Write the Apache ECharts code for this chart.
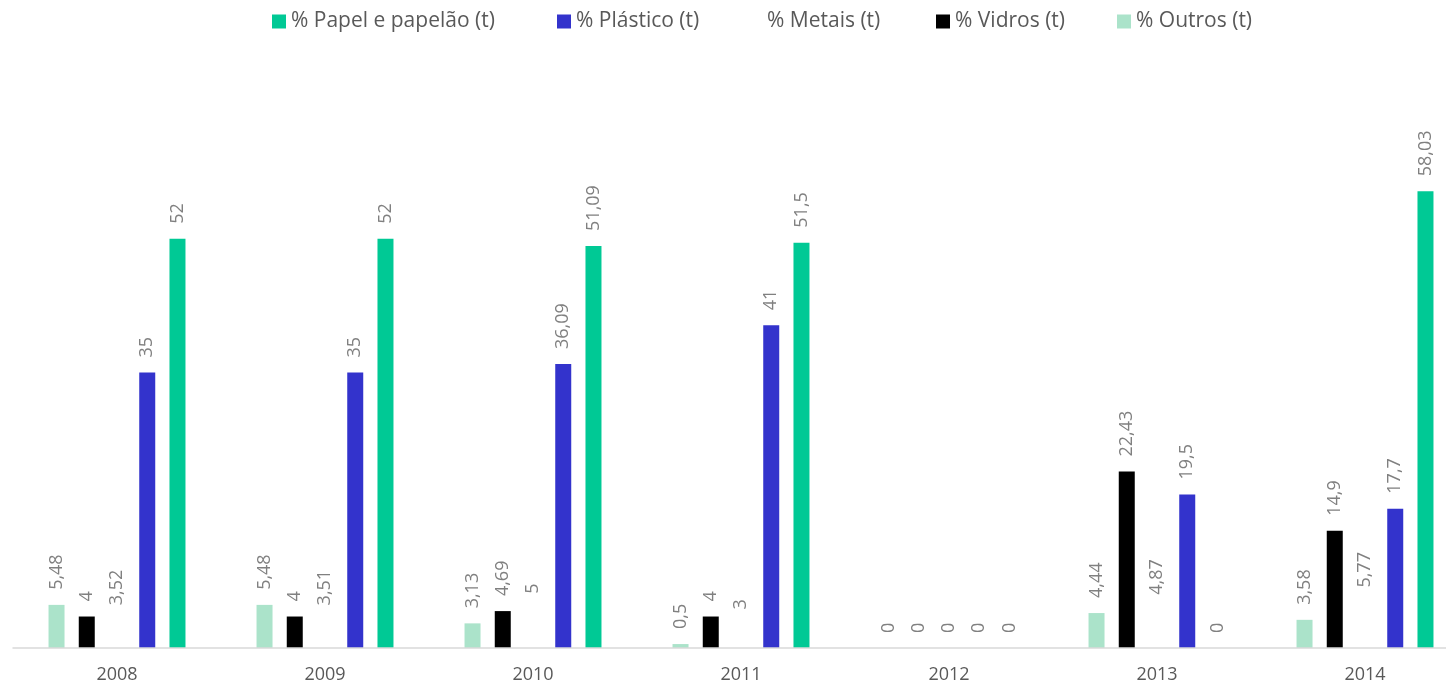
<!DOCTYPE html>
<html>
<head>
<meta charset="utf-8">
<script src="https://cdn.jsdelivr.net/npm/echarts@6/dist/echarts.min.js"></script>
<style>
html,body{margin:0;padding:0;background:#fff;}
#chart{width:1446px;height:687px;}
</style>
</head>
<body>
<div id="chart"></div>
<script>
const categories = ['2008', '2009', '2010', '2011', '2012', '2013', '2014'];
const outros   = [5.48, 5.48, 3.13, 0.5, 0, 4.44, 3.58];
const vidros   = [4, 4, 4.69, 4, 0, 22.43, 14.9];
const metais   = [3.52, 3.51, 5, 3, 0, 4.87, 5.77];
const plastico = [35, 35, 36.09, 41, 0, 19.5, 17.7];
const papel    = [52, 52, 51.09, 51.5, 0, 0, 58.03];
const seriesNames = ['% Outros (t)', '% Vidros (t)', '% Metais (t)', '% Plástico (t)', '% Papel e papelão (t)'];
const legendOrder = ['% Papel e papelão (t)', '% Plástico (t)', '% Metais (t)', '% Vidros (t)', '% Outros (t)'];

const colors = ['#ABE3CA', '#000000', '#FFFFFF', '#3333CC', '#00C995'];
const dataSets = [outros, vidros, metais, plastico, papel];
const FONT = '"Open Sans", "DejaVu Sans", sans-serif';
const legendLefts = [272, 557, 748, 936, 1117];

const chart = echarts.init(document.getElementById('chart'), null, {renderer: 'canvas'});
const series = dataSets.map((d, i) => ({
  name: seriesNames[i],
  type: 'bar',
  data: d,
  barWidth: 16,
  barGap: '89%',
  itemStyle: {color: colors[i]},
  label: {
    show: true,
    position: 'top',
    distance: 15,
    rotate: 90,
    align: 'left',
    verticalAlign: 'middle',
    color: '#808080',
    fontSize: 18,
    fontFamily: FONT,
    formatter: p => String(p.value).replace('.', ',')
  }
}));

const legends = legendOrder.map((name, i) => ({
  data: [name],
  top: 11,
  left: legendLefts[i],
  padding: 0,
  itemWidth: 14,
  itemHeight: 14,
  itemGap: 5,
  icon: 'rect',
  textStyle: {color: '#595959', fontSize: 21, fontFamily: FONT}
}));

chart.setOption({
  animation: false,
  backgroundColor: '#ffffff',
  color: colors,
  legend: legends,
  grid: {left: 13, width: 1456, top: 175.8, bottom: 39, containLabel: false, outerBoundsMode: 'none'},
  xAxis: {
    type: 'category',
    data: categories,
    z: 5,
    axisTick: {show: false},
    axisLine: {lineStyle: {color: '#D9D9D9', width: 1.5}},
    axisLabel: {color: '#595959', fontSize: 18, fontFamily: FONT, margin: 18}
  },
  yAxis: {
    type: 'value',
    min: 0,
    max: 60,
    show: false,
    splitLine: {show: false}
  },
  series: series
});
</script>
</body>
</html>
